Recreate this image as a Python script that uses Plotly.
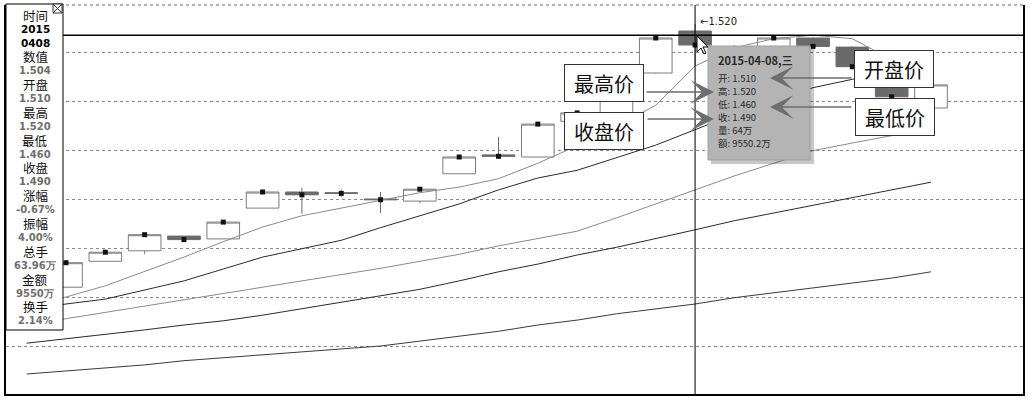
import plotly.graph_objects as go

# ---------------- data ----------------
dates = ["2015-03-13", "2015-03-16", "2015-03-17", "2015-03-18", "2015-03-19", "2015-03-20",
         "2015-03-23", "2015-03-24", "2015-03-25", "2015-03-26", "2015-03-27", "2015-03-30",
         "2015-03-31", "2015-04-01", "2015-04-02", "2015-04-03", "2015-04-07", "2015-04-08",
         "2015-04-09", "2015-04-10", "2015-04-13", "2015-04-14", "2015-04-15", "2015-04-16"]
candle_dates = dates[1:]

opens = [1.144, 1.181, 1.196, 1.217, 1.213, 1.257, 1.280, 1.279, 1.270, 1.267, 1.306, 1.333,
         1.330, 1.381, 1.393, 1.450, 1.510, 1.470, 1.475, 1.500, 1.487, 1.452, 1.400]
highs = [1.179, 1.195, 1.220, 1.217, 1.238, 1.281, 1.286, 1.283, 1.280, 1.285, 1.331, 1.359,
         1.378, 1.395, 1.452, 1.502, 1.520, 1.490, 1.502, 1.501, 1.488, 1.455, 1.434]
lows = [1.144, 1.181, 1.191, 1.210, 1.213, 1.257, 1.249, 1.273, 1.250, 1.264, 1.306, 1.330,
        1.330, 1.375, 1.390, 1.449, 1.460, 1.460, 1.470, 1.485, 1.455, 1.414, 1.398]
closes = [1.179, 1.194, 1.219, 1.212, 1.237, 1.280, 1.276, 1.278, 1.269, 1.284, 1.330, 1.331,
          1.377, 1.393, 1.450, 1.500, 1.490, 1.485, 1.500, 1.488, 1.459, 1.416, 1.433]

# moving-average lines (one value per date)
ma_a = [1.119, 1.130, 1.146, 1.166, 1.187, 1.209, 1.230, 1.246, 1.257, 1.269, 1.279, 1.287,
        1.299, 1.321, 1.346, 1.373, 1.404, 1.460, 1.486, 1.499, 1.504, 1.499, 1.469, 1.457]
ma_b = [1.111, 1.120, 1.127, 1.140, 1.153, 1.170, 1.187, 1.199, 1.211, 1.229, 1.246, 1.263,
        1.283, 1.300, 1.311, 1.329, 1.347, 1.369, 1.391, 1.410, 1.429, 1.441, 1.451, 1.460]
ma_c = [1.090, 1.099, 1.107, 1.117, 1.126, 1.134, 1.143, 1.153, 1.161, 1.171, 1.181, 1.191,
        1.203, 1.213, 1.224, 1.243, 1.263, 1.284, 1.303, 1.321, 1.339, 1.350, 1.360, 1.371]
ma_d = [1.064, 1.070, 1.076, 1.083, 1.090, 1.096, 1.104, 1.113, 1.123, 1.131, 1.141, 1.153,
        1.166, 1.177, 1.190, 1.201, 1.213, 1.226, 1.239, 1.250, 1.261, 1.273, 1.284, 1.294]
ma_e = [1.020, 1.024, 1.029, 1.033, 1.039, 1.043, 1.047, 1.051, 1.056, 1.060, 1.067, 1.074,
        1.081, 1.090, 1.097, 1.106, 1.113, 1.120, 1.129, 1.136, 1.143, 1.150, 1.157, 1.166]

cursor_date = "2015-04-08"
cursor_value = 1.504
cursor_high = 1.520

panel_items = [("时间", "k"), ("2015", "b"), ("0408", "b"), ("数值", "k"), ("1.504", "g"),
               ("开盘", "k"), ("1.510", "g"), ("最高", "k"), ("1.520", "g"), ("最低", "k"),
               ("1.460", "g"), ("收盘", "k"), ("1.490", "g"), ("涨幅", "k"), ("-0.67%", "g"),
               ("振幅", "k"), ("4.00%", "g"), ("总手", "k"), ("63.96万", "g"), ("金额", "k"),
               ("9550万", "g"), ("换手", "k"), ("2.14%", "g")]

tip_title = "2015-04-08,三"
tip_rows = ["开: 1.510", "高: 1.520", "低: 1.460", "收: 1.490", "量: 64万", "额: 9550.2万"]

# ---------------- layout helpers ----------------
W, H = 1030, 400
ML, MR, MT, MB = 6, 7, 5, 6
PW, PH = W - ML - MR, H - MT - MB


def px(x):
    return (x - ML) / PW


def py(y):
    return (H - MB - y) / PH


fig = go.Figure()

fig.add_trace(go.Candlestick(
    x=candle_dates, open=opens, high=highs, low=lows, close=closes,
    increasing=dict(line=dict(color="#7c7c7c", width=1), fillcolor="#ffffff"),
    decreasing=dict(line=dict(color="#6a6a6a", width=1), fillcolor="#6a6a6a"),
    whiskerwidth=0, hoverinfo="skip", showlegend=False))

for vals, col, w in [(ma_e, "#3a3a3a", 1), (ma_d, "#2a2a2a", 1), (ma_c, "#8a8a8a", 1),
                     (ma_b, "#2a2a2a", 1), (ma_a, "#8a8a8a", 1)]:
    fig.add_trace(go.Scatter(x=dates, y=vals, mode="lines", line=dict(color=col, width=w),
                             hoverinfo="skip", showlegend=False))

fig.add_trace(go.Scatter(x=candle_dates, y=closes, mode="markers",
                         marker=dict(symbol="square", size=5, color="#111111"),
                         hoverinfo="skip", showlegend=False))

shapes = []
shapes.append(dict(type="line", xref="paper", yref="paper", x0=0, x1=1, y0=1, y1=1,
                   line=dict(color="#666666", width=1, dash="dot"), layer="above"))
shapes.append(dict(type="line", xref="x", yref="paper", x0=cursor_date, x1=cursor_date, y0=0, y1=1,
                   line=dict(color="#000000", width=1), layer="above"))
shapes.append(dict(type="line", xref="paper", yref="y", x0=px(63), x1=1, y0=cursor_value, y1=cursor_value,
                   line=dict(color="#000000", width=1.5), layer="above"))
shapes.append(dict(type="rect", xref="paper", yref="paper", x0=px(6), x1=px(63), y0=py(330), y1=py(4),
                   fillcolor="#ffffff", line=dict(color="#000000", width=1), layer="above"))
shapes.append(dict(type="rect", xref="paper", yref="paper", x0=px(53), x1=px(62), y0=py(13), y1=py(4),
                   fillcolor="#ffffff", line=dict(color="#333333", width=1), layer="above"))
shapes.append(dict(type="line", xref="paper", yref="paper", x0=px(53), x1=px(62), y0=py(13), y1=py(4),
                   line=dict(color="#333333", width=1), layer="above"))
shapes.append(dict(type="line", xref="paper", yref="paper", x0=px(53), x1=px(62), y0=py(4), y1=py(13),
                   line=dict(color="#333333", width=1), layer="above"))
shapes.append(dict(type="rect", xref="paper", yref="paper", x0=px(711), x1=px(814), y0=py(164), y1=py(49),
                   fillcolor="rgba(0,0,0,0.22)", line=dict(width=0), layer="above"))
shapes.append(dict(type="rect", xref="paper", yref="paper", x0=px(708), x1=px(810), y0=py(160), y1=py(46),
                   fillcolor="#b4b4b4", line=dict(color="#a0a0a0", width=1), layer="above"))
cur = [(0, 0), (0, 16), (4, 12), (7, 18), (9, 17), (6, 11), (11, 11)]
cx, cy = 697, 36
path = "M " + " L ".join(f"{px(cx + a):.5f},{py(cy + b):.5f}" for a, b in cur) + " Z"
shapes.append(dict(type="path", xref="paper", yref="paper", path=path,
                   fillcolor="#ffffff", line=dict(color="#000000", width=1), layer="above"))

ann = []
for k, (t, kind) in enumerate(panel_items):
    yk = 15 + 13.9 * k
    if kind == "k":
        f = dict(family="Noto Sans CJK SC", size=12.5, color="#111111")
    elif kind == "b":
        f = dict(family="DejaVu Sans", size=10.5, color="#000000", weight="bold")
    else:
        f = dict(family="DejaVu Sans", size=10, color="#6e6e6e", weight="bold")
    ann.append(dict(text=t, xref="paper", yref="paper", x=px(35), y=py(yk), xanchor="center",
                    yanchor="middle", showarrow=False, font=f))

ann.append(dict(text="←1.520", xref="x", yref="y", x=cursor_date, y=cursor_high, xanchor="left",
                yanchor="middle", xshift=3, yshift=3, showarrow=False,
                font=dict(family="DejaVu Sans", size=10, color="#222222")))

ann.append(dict(text=tip_title, xref="paper", yref="paper", x=px(716), y=py(60), xanchor="left",
                yanchor="middle", showarrow=False,
                font=dict(family="Noto Sans CJK SC", size=11, color="#2a2a2a", weight="bold")))
for k, t in enumerate(tip_rows):
    ann.append(dict(text=t, xref="paper", yref="paper", x=px(716), y=py(78 + 13 * k), xanchor="left",
                    yanchor="middle", showarrow=False,
                    font=dict(family="Noto Sans CJK SC", size=9.5, color="#2a2a2a")))

labels = [("最高价", 603.5, 82.5), ("收盘价", 604, 131), ("开盘价", 894, 69), ("最低价", 895, 117)]
for t, x, y in labels:
    ann.append(dict(text=t, xref="paper", yref="paper", x=px(x), y=py(y), xanchor="center",
                    yanchor="middle", showarrow=False, width=74, height=32, borderpad=2,
                    borderwidth=1, bordercolor="#333333", bgcolor="#ffffff",
                    font=dict(family="Noto Sans CJK SC", size=20, color="#111111")))

arrows = [((714, 92), (645, 92)), ((714, 119), (646, 119)),
          ((770, 78), (853, 78)), ((770, 107), (853, 107))]
for (tx, ty), (sx, sy) in arrows:
    ann.append(dict(text="", xref="paper", yref="paper", x=px(tx), y=py(ty),
                    axref="pixel", ayref="pixel", ax=sx - tx, ay=sy - ty, showarrow=True,
                    arrowhead=3, arrowsize=3, arrowwidth=1.3, arrowcolor="#6e6e6e",
                    standoff=0, startstandoff=0))

fig.update_layout(
    width=W, height=H, margin=dict(l=ML, r=MR, t=MT, b=MB),
    paper_bgcolor="#ffffff", plot_bgcolor="#ffffff",
    boxgap=0.17, boxgroupgap=0, showlegend=False,
    xaxis=dict(type="category", categoryorder="array", categoryarray=dates,
               range=[-0.526, 25.34], showgrid=False, showticklabels=False, ticks="",
               zeroline=False, showline=True, linecolor="#000000", linewidth=2,
               rangeslider=dict(visible=False), fixedrange=True),
    yaxis=dict(range=[(1088 - 394) / 700, (1088 - 5) / 700], tick0=1.06, dtick=0.07,
               showgrid=True, gridcolor="#8a8a8a", griddash="dot", gridwidth=1,
               showticklabels=False, ticks="", zeroline=False, showline=True, mirror=True,
               linecolor="#000000", linewidth=2, fixedrange=True),
    shapes=shapes, annotations=ann,
)

fig.write_html("out.html", config={"displayModeBar": False},
               post_script="document.body.style.margin='0';document.body.style.overflow='hidden';")
